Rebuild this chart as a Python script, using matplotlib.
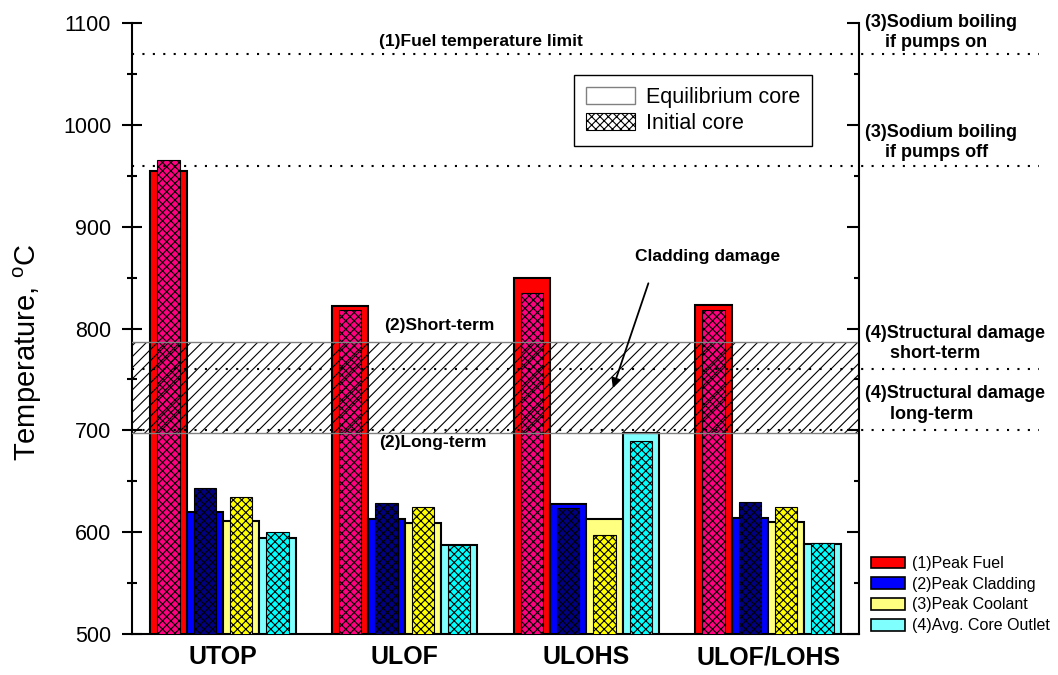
import numpy as np
import matplotlib
matplotlib.use('Agg')
import matplotlib.pyplot as plt
from matplotlib.patches import Patch
from matplotlib.ticker import MultipleLocator

plt.rcParams['font.family'] = ['Liberation Sans', 'DejaVu Sans']
plt.rcParams['mathtext.fontset'] = 'custom'
plt.rcParams['mathtext.rm'] = 'Liberation Sans'
plt.rcParams['hatch.linewidth'] = 0.8

scenarios = ['UTOP', 'ULOF', 'ULOHS', 'ULOF/LOHS']
series = ['(1)Peak Fuel', '(2)Peak Cladding', '(3)Peak Coolant', '(4)Avg. Core Outlet']

# equilibrium core (wide bars)
eq_fuel = [955, 822, 850, 823]
eq_clad = [620, 613, 628, 614]
eq_cool = [611, 609, 613, 610]
eq_outlet = [594, 587, 697, 588]
# initial core (narrow hatched bars)
init_fuel = [965, 818, 835, 818]
init_clad = [643, 629, 624, 630]
init_cool = [635, 625, 597, 625]
init_outlet = [600, 587, 690, 589]

eq_colors = ['#FF0000', '#0000FF', '#FFFF80', '#80FFFF']
init_colors = ['#FF0080', '#000080', '#FFFF00', '#00FFFF']

fuel_limit = 1070
boil_pumps_off = 960
struct_short = 760
struct_long = 700
clad_band = (697, 787)

fig = plt.figure(figsize=(10.58, 6.75), dpi=100)
ax = fig.add_axes([0.1248, 0.0607, 0.6871, 0.9052])

x = np.arange(len(scenarios))
offsets = [-0.3, -0.1, 0.1, 0.3]
eq_all = [eq_fuel, eq_clad, eq_cool, eq_outlet]
init_all = [init_fuel, init_clad, init_cool, init_outlet]
for off, ev, iv, ec, ic in zip(offsets, eq_all, init_all, eq_colors, init_colors):
    ax.bar(x + off, ev, width=0.2, color=ec, edgecolor='black', lw=1.5, zorder=2)
    ax.bar(x + off, iv, width=0.123, color=ic, edgecolor='black', lw=0.8,
           hatch='xxxx', zorder=3)

ax.set_xlim(-0.5, 3.5)
ax.set_ylim(500, 1100)

# cladding damage band
ax.axhspan(clad_band[0], clad_band[1], facecolor='none', edgecolor='black',
           hatch='///', lw=0, zorder=4)
for v in clad_band:
    ax.axhline(v, color='gray', lw=1, zorder=4)

# dotted limit lines
for v in [fuel_limit, boil_pumps_off, struct_short, struct_long]:
    ax.plot([-0.5, 4.49], [v, v], color='black', ls=(0, (1, 4)), lw=1.5,
            clip_on=False, zorder=5)

bold = dict(fontsize=12.5, fontweight='bold')
side = dict(fontsize=13, fontweight='bold', ha='left', va='center', linespacing=1.25)
ax.text(1.418, 1082, '(1)Fuel temperature limit', ha='center', va='center', **bold)
ax.text(1.19, 803, '(2)Short-term', ha='center', va='center', **bold)
ax.text(1.154, 688, '(2)Long-term', ha='center', va='center', **bold)
ax.text(3.533, 1091, '(3)Sodium boiling\n    if pumps on', **side)
ax.text(3.533, 983, '(3)Sodium boiling\n    if pumps off', **side)
ax.text(3.533, 785, '(4)Structural damage\n     short-term', **side)
ax.text(3.533, 726, '(4)Structural damage\n     long-term', **side)
ax.text(2.665, 871, 'Cladding damage', ha='center', va='center', **bold)
ax.annotate('', xy=(2.141, 739), xytext=(2.346, 847),
            arrowprops=dict(arrowstyle='-|>', color='black', lw=1.3,
                            mutation_scale=14), zorder=6)

# axes styling
ax.spines['top'].set_visible(False)
ax.spines['right'].set_visible(False)
ax.spines['left'].set_linewidth(1.5)
ax.spines['bottom'].set_linewidth(1.5)
ax.yaxis.set_major_locator(MultipleLocator(100))
ax.yaxis.set_minor_locator(MultipleLocator(50))
ax.tick_params(axis='y', which='major', direction='inout', length=14, width=1.5,
               labelsize=15.5, pad=8)
ax.tick_params(axis='y', which='minor', direction='inout', length=7, width=1.5)
ax.set_xticks(x)
ax.set_xticklabels(scenarios, fontsize=18, fontweight='bold')
ax.tick_params(axis='x', length=0, pad=8)

ax2 = ax.twinx()
ax2.set_ylim(500, 1100)
ax2.yaxis.set_major_locator(MultipleLocator(100))
ax2.yaxis.set_minor_locator(MultipleLocator(50))
ax2.tick_params(axis='y', which='major', direction='in', length=8.5, width=1.5,
                labelright=False)
ax2.tick_params(axis='y', which='minor', direction='in', length=3.5, width=1.5)
for s in ['top', 'left', 'bottom']:
    ax2.spines[s].set_visible(False)
ax2.spines['right'].set_linewidth(1.5)

fig.text(0.026, 0.478, r'Temperature, $^{\mathrm{o}}$C', rotation=90,
         ha='center', va='center', fontsize=21)

core_handles = [Patch(facecolor='white', edgecolor='gray', lw=1, label='Equilibrium core'),
                Patch(facecolor='white', edgecolor='black', lw=0.8, hatch='xxxx',
                      label='Initial core')]
leg1 = ax2.legend(handles=core_handles, loc='upper left', bbox_to_anchor=(0.608, 0.915),
                  fontsize=15.5, frameon=True, fancybox=False, edgecolor='black',
                  framealpha=1, handlelength=2.3, handleheight=0.8,
                  handletextpad=0.5, borderaxespad=0, borderpad=0.55, labelspacing=0.25)
leg1.get_frame().set_linewidth(1)

series_handles = [Patch(facecolor=c, edgecolor='black', lw=1.2, label=l)
                  for c, l in zip(eq_colors, series)]
fig.legend(handles=series_handles, loc='upper left',
           bbox_to_anchor=(871 / 1058, 1 - 556 / 675), frameon=False, fontsize=11.5,
           handlelength=2.1, handleheight=0.75, labelspacing=0.36,
           handletextpad=0.45, borderpad=0, borderaxespad=0)

fig.savefig('out.png', dpi=100)
